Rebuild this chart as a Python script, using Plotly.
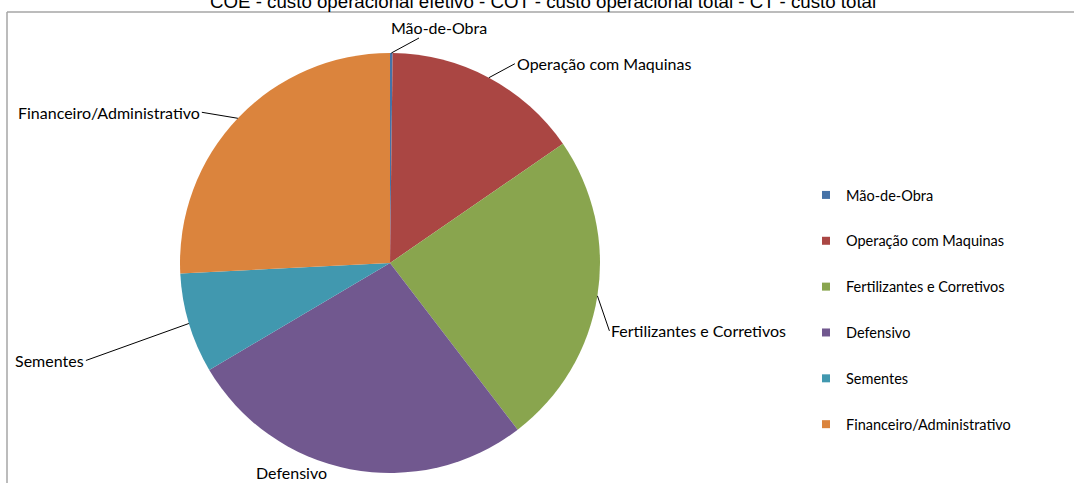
import math
import plotly.graph_objects as go

# ---- data ----
categories = ["Mão-de-Obra", "Operação com Maquinas", "Fertilizantes e Corretivos",
              "Defensivo", "Sementes", "Financeiro/Administrativo"]
shares = [0.2, 15.2, 24.2, 26.9, 7.7, 25.8]
colors = ["#4572A7", "#AA4643", "#89A54E", "#71588F", "#4198AF", "#DB843D"]
title_text = "COE - custo operacional efetivo - COT - custo operacional total - CT - custo total"

W, H = 1074, 483
CX, CY, R = 390, 263, 210  # pie centre / radius in pixels

fig = go.Figure()
fig.add_trace(go.Pie(
    labels=categories, values=shares, sort=False, direction="clockwise", rotation=0,
    marker=dict(colors=colors, line=dict(width=0)),
    textinfo="none", hoverinfo="label+percent", showlegend=False,
    domain=dict(x=[(CX - R) / W, (CX + R) / W], y=[(H - CY - R) / H, (H - CY + R) / H]),
))

# legend entries (spaced like the original)
for i, (c, col) in enumerate(zip(categories, colors)):
    fig.add_trace(go.Scatter(x=[None], y=[None], mode="markers", name=c,
                             marker=dict(symbol="square", size=8, color=col),
                             legendgroup=str(i), showlegend=True))

# label placement styles: (dx, dy, xanchor, arrow)
label_style = [
    (48, -26, "center", True),
    (26, -14, "left", True),
    (12, 35, "left", True),
    (-59, 3, "center", False),
    (-103, 37, "right", True),
    (-36, -6, "right", True),
]

total = sum(shares)
cum = 0.0
annotations = []
for cat, v, (dx, dy, xa, arrow) in zip(categories, shares, label_style):
    mid = (cum + v / 2) / total * 2 * math.pi
    cum += v
    px = CX + R * math.sin(mid)
    py = CY - R * math.cos(mid)
    if arrow:
        annotations.append(dict(
            x=px / W, y=1 - py / H, xref="paper", yref="paper", text=cat,
            showarrow=True, ax=dx, ay=dy, arrowhead=0, arrowwidth=1, arrowcolor="black",
            xanchor=xa, yanchor="middle", standoff=0,
            font=dict(family="Lato", size=16, color="black")))
    else:
        annotations.append(dict(
            x=(px + dx) / W, y=1 - (py + dy) / H, xref="paper", yref="paper", text=cat,
            showarrow=False, xanchor=xa, yanchor="middle",
            font=dict(family="Lato", size=16, color="black")))

annotations.append(dict(x=543 / W, y=1 - 1 / H, xref="paper", yref="paper", text=title_text,
                        showarrow=False, xanchor="center", yanchor="middle",
                        font=dict(family="Liberation Sans", size=18.7, color="black")))

fig.update_layout(
    width=W, height=H, margin=dict(l=0, r=0, t=0, b=0),
    paper_bgcolor="white", plot_bgcolor="white",
    xaxis=dict(visible=False), yaxis=dict(visible=False),
    showlegend=True,
    legend=dict(x=806 / W, y=1 - 179 / H, xanchor="left", yanchor="top",
                traceorder="grouped", tracegroupgap=24,
                font=dict(family="Lato", size=14.5, color="black"),
                bgcolor="rgba(0,0,0,0)"),
    annotations=annotations,
    shapes=[
        dict(type="line", xref="paper", yref="paper", x0=7 / W, x1=1, y0=1 - 12 / H, y1=1 - 12 / H,
             line=dict(color="#A6A6A6", width=1.5)),
        dict(type="line", xref="paper", yref="paper", x0=7 / W, x1=7 / W, y0=0, y1=1 - 12 / H,
             line=dict(color="#A6A6A6", width=1.5)),
    ],
)

fig.write_html("out.html", config={"displayModeBar": False},
               post_script="document.body.style.margin='0';")
